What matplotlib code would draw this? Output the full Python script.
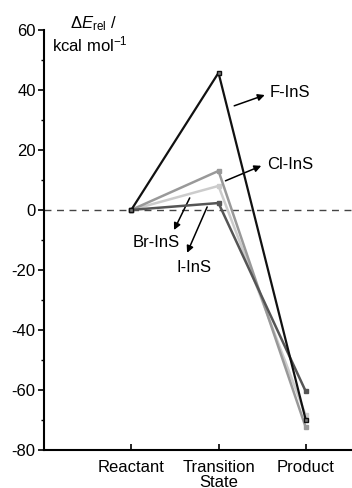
import numpy as np
import matplotlib
matplotlib.use("Agg")
import matplotlib.pyplot as plt
from matplotlib.ticker import MultipleLocator

plt.rcParams['font.family'] = ['Liberation Sans', 'DejaVu Sans']
plt.rcParams['mathtext.fontset'] = 'custom'
plt.rcParams['mathtext.rm'] = 'Liberation Sans'
plt.rcParams['mathtext.it'] = 'Liberation Sans:italic'
plt.rcParams['axes.unicode_minus'] = False

# Data
stages = ["Reactant", "Transition\nState", "Product"]
f_ins = [0, 45.7, -70.0]
cl_ins = [0, 13.0, -72.5]
br_ins = [0, 8.0, -68.5]
i_ins = [0, 2.3, -60.5]

# Figure
fig = plt.figure(figsize=(3.52, 4.88), dpi=100)
ax = fig.add_axes([0.125, 0.078, 0.875, 0.8607])

x = np.arange(1, len(stages) + 1)

ax.axhline(0, color="#444444", lw=1, ls=(0, (5, 4)), zorder=1)

# Series
ax.plot(x, br_ins, color="#cccccc", lw=1.8, marker="s", ms=3, zorder=2)
ax.plot(x, cl_ins, color="#999999", lw=1.8, marker="s", ms=3, zorder=3)
ax.plot(x, i_ins, color="#555555", lw=1.8, marker="s", ms=3, zorder=4)
ax.plot(x, f_ins, color="#111111", lw=1.6, marker="s", ms=3,
        mfc="#777777", zorder=5)

# Labels with arrows
arrow = dict(arrowstyle="-|>", color="black", lw=1.1, mutation_scale=10,
             shrinkA=0, shrinkB=0)
ax.annotate("", xy=(2.53, 38.3), xytext=(2.18, 34.7), arrowprops=arrow)
ax.text(2.59, 39, "F-InS", fontsize=12, va="center", ha="left")
ax.annotate("", xy=(2.49, 14.7), xytext=(2.08, 9.7), arrowprops=arrow)
ax.text(2.56, 15.3, "Cl-InS", fontsize=12, va="center", ha="left")
ax.annotate("", xy=(1.49, -6.7), xytext=(1.67, 4), arrowprops=arrow)
ax.text(1.29, -10.7, "Br-InS", fontsize=12, va="center", ha="center")
ax.annotate("", xy=(1.64, -14.3), xytext=(1.87, 1), arrowprops=arrow)
ax.text(1.72, -19.3, "I-InS", fontsize=12, va="center", ha="center")

# Y label
ax.text(0.086, 1.016, r"$\Delta E_{\rm rel}$ /", transform=ax.transAxes,
        fontsize=12, ha="left", va="center")
ax.text(0.026, 0.966, r"kcal mol$^{-1}$", transform=ax.transAxes,
        fontsize=12, ha="left", va="center")

# Axes
ax.set_xlim(0, 3.53)
ax.set_ylim(-80, 60)
ax.set_xticks(x)
ax.set_xticklabels(stages, fontsize=12, linespacing=1.05, va="top")
ax.yaxis.set_major_locator(MultipleLocator(20))
ax.yaxis.set_minor_locator(MultipleLocator(10))
ax.tick_params(axis="y", which="major", direction="out", length=4,
               width=1.2, labelsize=12, pad=2)
ax.tick_params(axis="y", which="minor", direction="out", length=2.5,
               width=1.0)
ax.tick_params(axis="x", direction="in", length=4, width=1.2, pad=7)

for s in ["top", "right"]:
    ax.spines[s].set_visible(False)
for s in ["left", "bottom"]:
    ax.spines[s].set_linewidth(1.5)

fig.savefig("out.png", dpi=100)
